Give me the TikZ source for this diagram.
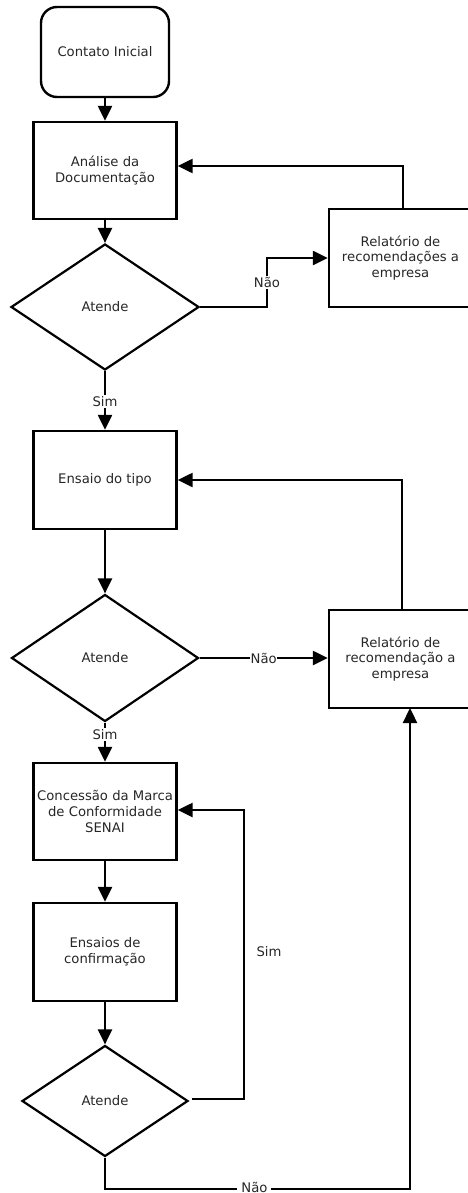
\documentclass[tikz,border=0pt]{standalone}
\usepackage{fontspec}
\setmainfont{DejaVu Sans}
\usetikzlibrary{shapes.geometric,arrows.meta,calc}
\begin{document}
\begin{tikzpicture}[x=1pt,y=-1pt,
  every node/.style={font=\fontsize{13.2}{15.6}\selectfont, text=black!85},
  proc/.style={draw=black, line width=2.4pt, minimum width=143pt, minimum height=97pt, inner sep=0pt, align=center},
  startbox/.style={proc, rounded corners=16pt, minimum width=128pt, minimum height=90pt},
  decision/.style={draw=black, line width=2.2pt, diamond, inner sep=0pt},
  conn/.style={line width=2.4pt, -{Triangle[length=15pt,width=14pt]}},
  lbl/.style={fill=white, inner sep=1.5pt}
]
\useasboundingbox (0,0) rectangle (468,1193);
\clip (0,0) rectangle (468,1193);
\node[startbox] (start) at (105,52) {Contato Inicial};
\node[proc] (ana) at (105,170.5) {Análise da\\Documentação};
\node[decision, minimum width=188pt, minimum height=126pt] (d1) at (105,307) {Atende};
\node[proc, minimum height=98pt] (rel1) at (400.5,258) {Relatório de\\recomendações a\\empresa};
\node[proc, minimum height=98pt] (ens) at (105,480) {Ensaio do tipo};
\node[decision, minimum width=187pt, minimum height=127pt] (d2) at (105,658) {Atende};
\node[proc, minimum height=98pt] (rel2) at (400.5,659) {Relatório de\\recomendação a\\empresa};
\node[proc] (con) at (105,811.5) {Concessão da Marca\\de Conformidade\\SENAI};
\node[proc, minimum height=98pt] (ensc) at (105,952) {Ensaios de\\confirmação};
\node[decision, minimum width=166pt, minimum height=111pt] (d3) at (105,1101) {Atende};

\coordinate (f1) at (403,166);
\coordinate (n1) at (267,307);
\coordinate (f2) at (402,480);
\coordinate (s3a) at (192,1099);
\coordinate (s3b) at (244,1099);
\coordinate (s3c) at (244,810);
\coordinate (n3a) at (105,1189);
\coordinate (n3b) at (410,1189);
\coordinate (n3c) at (410,708);

\draw[conn] (start.south) -- (ana.north);
\draw[conn] (rel1.north -| f1) -- (f1) -- (ana.east |- f1);
\draw[conn] (ana.south) -- (d1.north);
\draw[conn] (d1.east) -- (n1) |- node[lbl, pos=0.25] {Não} (rel1.west);
\draw[conn] (d1.south) -- node[lbl, pos=0.52] {Sim} (ens.north);
\draw[conn] (rel2.north -| f2) -- (f2) -- (ens.east |- f2);
\draw[conn] (ens.south) -- (d2.north);
\draw[conn] (d2.east) -- node[lbl, pos=0.5, inner sep=0.5pt] {Não} (d2.east -| rel2.west);
\draw[conn] (d2.south) -- node[lbl, pos=0.3] {Sim} (con.north);
\draw[conn] (con.south) -- (ensc.north);
\draw[conn] (ensc.south) -- (d3.north);
\draw[conn] (s3a) -- (s3b) -- (s3c) -- (con.east |- s3c);
\node[anchor=west] (simlbl) at (253,952) {Sim};
\draw[conn] (d3.south) -- (n3a) -- node[lbl, pos=0.49, inner sep=4pt, yshift=2pt] {Não} (n3b) -- (n3c);
\end{tikzpicture}
\end{document}
